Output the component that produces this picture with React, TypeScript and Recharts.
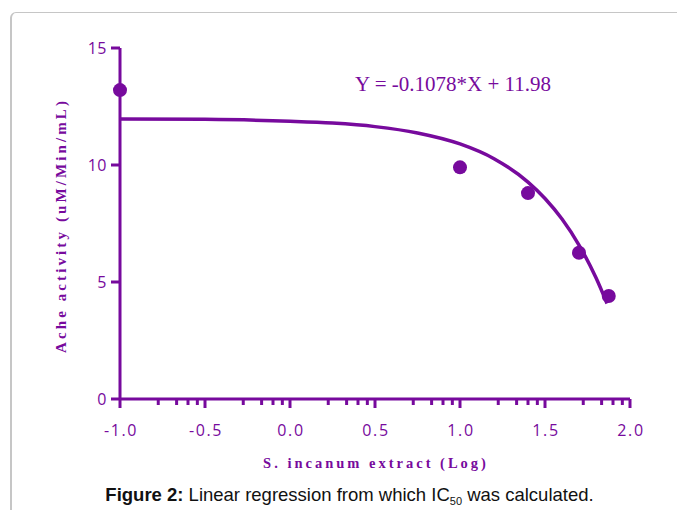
import React from "react";
import { ComposedChart, Line, Scatter, XAxis, YAxis } from "recharts";

const PURPLE = "#770a9d";

// axis ticks
const xMajorTicks = [-1.0, -0.5, 0.0, 0.5, 1.0, 1.5, 2.0];
const xMinorOffsets = [0.225, 0.333, 0.4, 0.455];
const yTicks = [0, 5, 10, 15];

// measured points
const measuredX = [-1.0, 1.0, 1.4, 1.7, 1.875];
const measuredY = [13.2, 9.9, 8.8, 6.25, 4.4];

// fitted curve
const fitX = [-1.0, -0.5, 0.0, 0.25, 0.5, 0.75, 1.0, 1.2, 1.4, 1.5, 1.6, 1.7, 1.8, 1.865];
const fitY = [11.97, 11.95, 11.87, 11.79, 11.64, 11.37, 10.9, 10.27, 9.27, 8.57, 7.69, 6.58, 5.18, 4.08];

const pointData = measuredX.map((x, i) => ({ x, y: measuredY[i] }));
const fitData = fitX.map((x, i) => ({ x, y: fitY[i] }));

const xTicks = [
  ...xMajorTicks,
  ...xMajorTicks.slice(0, -1).flatMap((m) => xMinorOffsets.map((o) => +(m + o).toFixed(3))),
].sort((a, b) => a - b);

const isMajor = (v: number) => xMajorTicks.some((m) => Math.abs(m - v) < 1e-6);

function XTick(props: any) {
  const { x, y, payload } = props;
  const v = payload.value as number;
  const major = isMajor(v);
  return (
    <g>
      <line x1={x} x2={x} y1={y} y2={y + (major ? 9 : 6)} stroke={PURPLE} strokeWidth={3} />
      {major && (
        <text
          x={x + 1}
          y={y + 37}
          textAnchor="middle"
          fill={PURPLE}
          fontSize={16}
          letterSpacing={1.6}
          fontFamily="'Open Sans', sans-serif"
        >
          {v.toFixed(1)}
        </text>
      )}
    </g>
  );
}

function YTick(props: any) {
  const { x, y, payload } = props;
  return (
    <g>
      <line x1={x - 9} x2={x} y1={y} y2={y} stroke={PURPLE} strokeWidth={3} />
      <text
        x={x - 13}
        y={y + 6}
        textAnchor="end"
        fill={PURPLE}
        fontSize={16}
        letterSpacing={0.5}
        fontFamily="'Open Sans', sans-serif"
      >
        {payload.value}
      </text>
    </g>
  );
}

const labelFont = "'Liberation Serif', 'Times New Roman', serif";

export default function App() {
  return (
    <div
      style={{
        position: "absolute",
        left: 0,
        top: 0,
        width: 677,
        height: 510,
        overflow: "hidden",
        background: "#fff",
      }}
    >
      {/* page frame */}
      <div
        style={{
          position: "absolute",
          left: 10,
          top: 12,
          width: 720,
          height: 540,
          border: "2px solid #c6c6c6",
          borderTopWidth: 1.5,
          borderRadius: 6,
        }}
      />
      <div style={{ position: "absolute", left: 0, top: 0 }}>
        <ComposedChart width={677} height={480} margin={{ top: 48, right: 47, left: 0, bottom: 0 }}>
          <XAxis
            dataKey="x"
            type="number"
            domain={[-1, 2]}
            ticks={xTicks}
            interval={0}
            height={81}
            tickLine={false}
            tickSize={0}
            tickMargin={0}
            axisLine={{ stroke: PURPLE, strokeWidth: 3 }}
            tick={<XTick />}
            label={{
              content: (p: any) => {
                const vb = p.viewBox;
                return (
                  <text
                    x={vb.x + vb.width / 2 + 1}
                    y={vb.y + 69}
                    textAnchor="middle"
                    fill={PURPLE}
                    fontSize={14.5}
                    fontWeight="bold"
                    letterSpacing={3}
                    fontFamily={labelFont}
                  >
                    S. incanum extract (Log)
                  </text>
                );
              },
            }}
          />
          <YAxis
            type="number"
            domain={[0, 15]}
            ticks={yTicks}
            interval={0}
            width={120}
            tickLine={false}
            tickSize={0}
            tickMargin={0}
            axisLine={{ stroke: PURPLE, strokeWidth: 3 }}
            tick={<YTick />}
            label={{
              content: (p: any) => {
                const vb = p.viewBox;
                const cx = 66;
                const cy = vb.y + vb.height / 2 + 2;
                return (
                  <text
                    x={cx}
                    y={cy}
                    transform={`rotate(-90 ${cx} ${cy})`}
                    textAnchor="middle"
                    fill={PURPLE}
                    fontSize={15}
                    fontWeight="bold"
                    letterSpacing={3.1}
                    fontFamily={labelFont}
                  >
                    Ache activity (uM/Min/mL)
                  </text>
                );
              },
            }}
          />
          <Line
            data={fitData}
            dataKey="y"
            type="monotone"
            stroke={PURPLE}
            strokeWidth={3.5}
            dot={false}
            activeDot={false}
            isAnimationActive={false}
          />
          <Scatter
            data={pointData}
            dataKey="y"
            fill={PURPLE}
            isAnimationActive={false}
            shape={(p: any) => <circle cx={p.cx} cy={p.cy} r={7} fill={PURPLE} />}
          />
        </ComposedChart>
      </div>
      <div
        style={{
          position: "absolute",
          left: 355,
          top: 71,
          fontFamily: labelFont,
          fontSize: 21,
          lineHeight: "26px",
          color: PURPLE,
          whiteSpace: "nowrap",
        }}
      >
        Y = -0.1078*X + 11.98
      </div>
      <div
        style={{
          position: "absolute",
          left: 0,
          width: 699,
          top: 483,
          textAlign: "center",
          fontFamily: "'Liberation Sans', Arial, sans-serif",
          fontSize: 18.5,
          lineHeight: "24px",
          color: "#111",
          whiteSpace: "nowrap",
        }}
      >
        <b>Figure 2:</b> Linear regression from which IC
        <sub style={{ fontSize: 11, verticalAlign: "-4px", lineHeight: 0 }}>50</sub> was calculated.
      </div>
    </div>
  );
}
